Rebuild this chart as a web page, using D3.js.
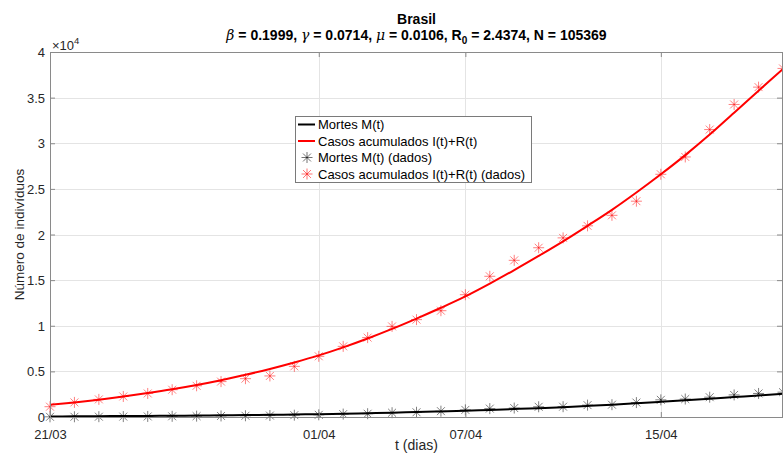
<!DOCTYPE html>
<html>
<head>
<meta charset="utf-8">
<script src="https://cdn.jsdelivr.net/npm/d3@7"></script>
<style>
  body { margin: 0; background: #fff; }
  svg { display: block; font-family: "Liberation Sans", Arial, sans-serif; }
</style>
</head>
<body>
<div id="chart"></div>
<script>
// dias (21/03 a 20/04)
const dias = ["21/03","22/03","23/03","24/03","25/03","26/03","27/03","28/03","29/03","30/03","31/03",
  "01/04","02/04","03/04","04/04","05/04","06/04","07/04","08/04","09/04","10/04",
  "11/04","12/04","13/04","14/04","15/04","16/04","17/04","18/04","19/04","20/04"];

// modelo ajustado
const casosModelo = [1350, 1600, 1900, 2250, 2620, 3030, 3500, 4030, 4620, 5270, 5980,
  6750, 7630, 8600, 9650, 10780, 11970, 13220, 14620, 16100, 17650,
  19250, 20950, 22700, 24600, 26600, 28700, 30950, 33350, 35750, 38150];
const mortesModelo = [60, 75, 90, 105, 120, 140, 160, 185, 210, 240, 275,
  315, 360, 410, 470, 540, 610, 690, 780, 870, 970,
  1080, 1210, 1350, 1500, 1660, 1830, 2000, 2180, 2360, 2550];

// dados observados
const casosDados = [1130, 1600, 1930, 2250, 2580, 2990, 3420, 3880, 4200, 4500, 5550,
  6650, 7740, 8700, 9930, 10670, 11650, 13400, 15420, 17170, 18550,
  19630, 20950, 22100, 23650, 26600, 28500, 31500, 34250, 36150, 38200];
const mortesDados = [20, 25, 35, 45, 60, 75, 95, 115, 135, 160, 200,
  240, 320, 360, 470, 520, 640, 780, 920, 980, 1120,
  1130, 1300, 1350, 1580, 1880, 1970, 2170, 2420, 2580, 2720];

const xTicks = ["21/03", "01/04", "07/04", "15/04"];
const yTicks = [0, 5000, 10000, 15000, 20000, 25000, 30000, 35000, 40000];

const legendItems = [
  { label: "Mortes M(t)", color: "#000", type: "line" },
  { label: "Casos acumulados I(t)+R(t)", color: "#ff0000", type: "line" },
  { label: "Mortes M(t) (dados)", color: "#000", type: "star" },
  { label: "Casos acumulados I(t)+R(t) (dados)", color: "#ff0000", type: "star" }
];

const parseDay = d3.timeParse("%d/%m");

/**
 * dimensions and margins of the graph
 */
function graphDimensions() {
  const margin = { top: 52, right: 0, bottom: 37, left: 50 };
  const width = 783 - margin.left - margin.right;
  const height = 454 - margin.top - margin.bottom;
  return [width, height, margin];
}

function appendToDom(width, height, margin) {
  return d3.select("#chart").append("svg")
    .attr("width", width + margin.left + margin.right)
    .attr("height", height + margin.top + margin.bottom)
    .append("g")
    .attr("transform", "translate(" + margin.left + "," + margin.top + ")");
}

/**
 * draws a matlab-like '*' marker (4 strokes)
 */
function star(g, cx, cy, r, color, opacity) {
  const d = r * 0.72;
  const segs = [[-r, 0, r, 0], [0, -r, 0, r], [-d, -d, d, d], [-d, d, d, -d]];
  segs.forEach(s => {
    g.append("line")
      .attr("x1", cx + s[0]).attr("y1", cy + s[1])
      .attr("x2", cx + s[2]).attr("y2", cy + s[3])
      .attr("stroke", color)
      .attr("stroke-opacity", opacity)
      .attr("stroke-width", 1);
  });
}

function drawGrid(svg, x, y, width, height) {
  svg.append("g").selectAll("line.gy")
    .data(yTicks.slice(1, -1))
    .enter().append("line")
    .attr("x1", 0).attr("x2", width)
    .attr("y1", d => Math.round(y(d)) + 0.5).attr("y2", d => Math.round(y(d)) + 0.5)
    .attr("stroke", "#e4e4e4");
  svg.append("g").selectAll("line.gx")
    .data(xTicks.slice(1))
    .enter().append("line")
    .attr("y1", 0).attr("y2", height)
    .attr("x1", d => Math.round(x(parseDay(d))) + 0.5).attr("x2", d => Math.round(x(parseDay(d))) + 0.5)
    .attr("stroke", "#e4e4e4");
}

function drawAxes(svg, x, y, width, height) {
  const axisColor = "#8a8a8a";
  const textColor = "#262626";

  // x axis bottom
  const xa = svg.append("g")
    .attr("transform", "translate(0," + height + ")")
    .call(d3.axisBottom(x).tickValues(xTicks.map(parseDay))
      .tickFormat(d3.timeFormat("%d/%m")).tickSizeInner(-5).tickSizeOuter(0).tickPadding(13));
  // x axis top
  const xt = svg.append("g")
    .call(d3.axisTop(x).tickValues(xTicks.map(parseDay))
      .tickFormat("").tickSizeInner(-5).tickSizeOuter(0));
  // y axis left
  const ya = svg.append("g")
    .call(d3.axisLeft(y).tickValues(yTicks)
      .tickFormat(d => d3.format("~g")(d / 10000)).tickSizeInner(-5).tickSizeOuter(0).tickPadding(5));
  // y axis right
  const yr = svg.append("g")
    .attr("transform", "translate(" + (width - 1) + ",0)")
    .call(d3.axisRight(y).tickValues(yTicks).tickFormat("").tickSizeInner(-5).tickSizeOuter(0));

  [xa, xt, ya, yr].forEach(a => {
    a.select(".domain").attr("stroke", axisColor);
    a.selectAll(".tick line").attr("stroke", axisColor);
    a.selectAll("text").attr("fill", textColor).style("font-size", "13px")
      .style("font-family", "'Liberation Sans', Arial, sans-serif");
  });
  ya.selectAll("text").attr("dy", "0.35em");

  // exponent
  const ex = svg.append("text")
    .attr("x", 2).attr("y", -2)
    .attr("fill", textColor)
    .style("font-size", "13px");
  ex.append("tspan").text("\u00d710");
  ex.append("tspan").attr("dy", -6).style("font-size", "9.5px").text("4");
}

function labelXName(width, height, svg) {
  svg.append("text")
    .attr("text-anchor", "middle")
    .attr("x", width / 2).attr("y", height + 33)
    .attr("fill", "#262626")
    .style("font-size", "14px")
    .text("t (dias)");
}

function labelYName(height, svg) {
  svg.append("text")
    .attr("text-anchor", "middle")
    .attr("fill", "#262626")
    .style("font-size", "13.5px")
    .attr("transform", "translate(-26," + (height / 2) + ")rotate(-90)")
    .text("Número de indivíduos");
}

function graphTitle(width, svg) {
  svg.append("text")
    .attr("x", width / 2).attr("y", -28)
    .attr("text-anchor", "middle")
    .style("font-weight", "bold")
    .style("font-size", "14px")
    .text("Brasil");

  const t = svg.append("text")
    .attr("x", width / 2).attr("y", -12.5)
    .attr("text-anchor", "middle")
    .style("font-weight", "bold")
    .style("font-size", "14px");
  const greek = s => t.append("tspan")
    .style("font-family", "'DejaVu Serif', serif")
    .style("font-style", "italic").style("font-weight", "normal")
    .text(s);
  const plain = s => t.append("tspan").text(s);
  greek("\u03b2"); plain(" = 0.1999, ");
  greek("\u03b3"); plain(" = 0.0714, ");
  greek("\u03bc"); plain(" = 0.0106, R");
  t.append("tspan").attr("dy", 4).style("font-size", "10px").text("0");
  t.append("tspan").attr("dy", -4).text(" = 2.4374, N = 105369");
}

function drawLines(svg, x, y) {
  const line = d3.line()
    .x((d, i) => x(parseDay(dias[i])))
    .y(d => y(d))
    .curve(d3.curveMonotoneX);
  svg.append("path").datum(mortesModelo)
    .attr("fill", "none").attr("stroke", "#000").attr("stroke-width", 2)
    .attr("d", line);
  svg.append("path").datum(casosModelo)
    .attr("fill", "none").attr("stroke", "#ff0000").attr("stroke-width", 2)
    .attr("d", line);
}

function plotStars(svg, x, y) {
  const g = svg.append("g");
  mortesDados.forEach((v, i) => star(g, x(parseDay(dias[i])), y(v), 5.5, "#000", 0.5));
  casosDados.forEach((v, i) => star(g, x(parseDay(dias[i])), y(v), 5.5, "#ff0000", 0.5));
}

function drawLegend(svg) {
  const lx = 245, ly = 64, lw = 236, lh = 66;
  const g = svg.append("g").attr("transform", "translate(" + lx + "," + ly + ")");
  g.append("rect")
    .attr("x", 0.5).attr("y", 0.5).attr("width", lw).attr("height", lh)
    .attr("fill", "#fff").attr("stroke", "#7a7a7a");
  legendItems.forEach((it, i) => {
    const cy = 8.5 + i * 16.5;
    if (it.type === "line") {
      g.append("line").attr("x1", 3).attr("x2", 20).attr("y1", cy).attr("y2", cy)
        .attr("stroke", it.color).attr("stroke-width", 2);
    } else {
      star(g, 12, cy, 5.5, it.color, 0.55);
    }
    g.append("text").attr("x", 23).attr("y", cy).attr("dy", "0.35em")
      .attr("fill", "#000")
      .style("font-size", "13px")
      .text(it.label);
  });
}

function drawGraph() {
  const [width, height, margin] = graphDimensions();
  const svg = appendToDom(width, height, margin);
  const x = d3.scaleTime().domain([parseDay("21/03"), parseDay("20/04")]).range([0, width]);
  const y = d3.scaleLinear().domain([0, 40000]).range([height, 0]);

  svg.append("clipPath").attr("id", "clip")
    .append("rect").attr("x", 0).attr("y", 0).attr("width", width).attr("height", height);

  drawGrid(svg, x, y, width, height);
  drawLines(svg.append("g").attr("clip-path", "url(#clip)"), x, y);
  plotStars(svg, x, y);
  drawAxes(svg, x, y, width, height);
  labelXName(width, height, svg);
  labelYName(height, svg);
  graphTitle(width, svg);
  drawLegend(svg);
}

drawGraph();
</script>
</body>
</html>
